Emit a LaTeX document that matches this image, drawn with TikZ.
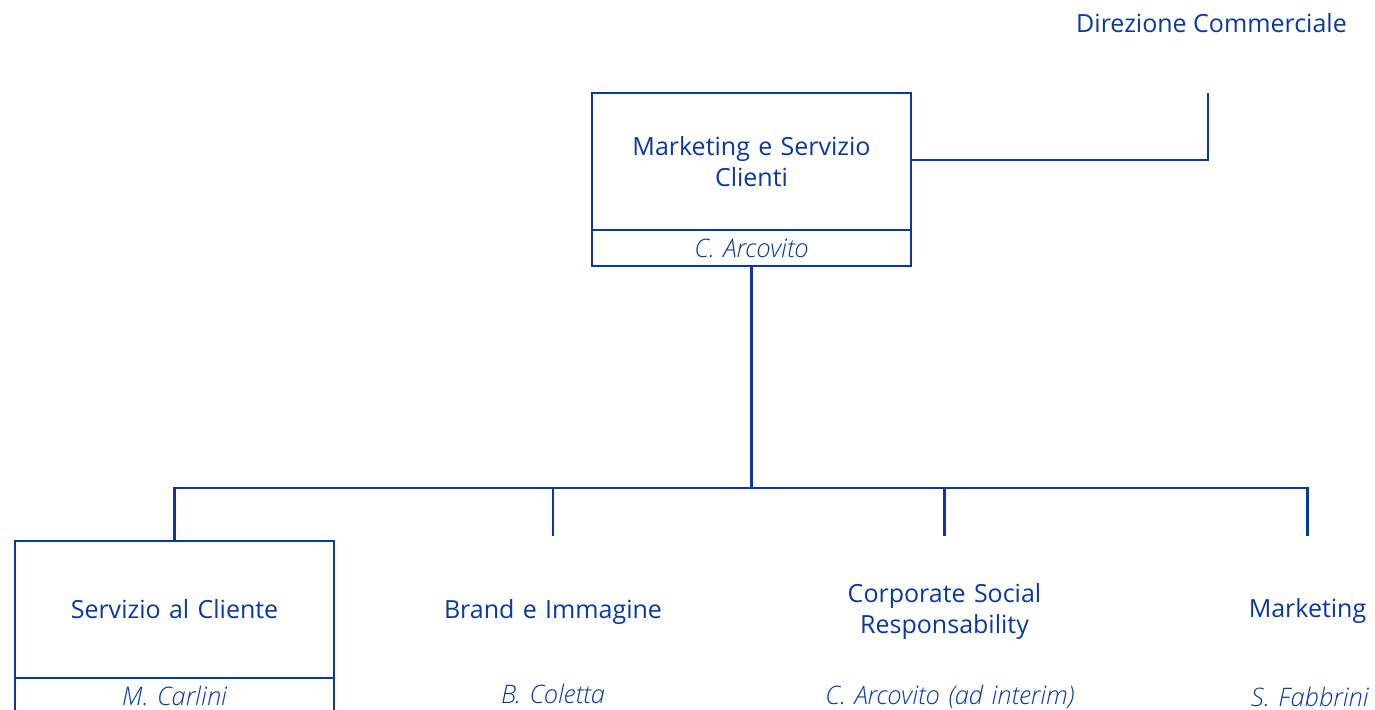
\documentclass[tikz,border=0pt]{standalone}
\usepackage{fontspec}
\setmainfont{Open Sans}
\newfontfamily\namefont{Open Sans Light Italic}
\definecolor{orgblue}{RGB}{8,56,160}
\begin{document}
\begin{tikzpicture}[x=1pt,y=-1pt,
  line/.style={draw=orgblue,line width=2.5pt},
  unitbox/.style={rectangle,minimum width=319pt,minimum height=137pt,inner sep=0pt,outer sep=0pt,
    text=orgblue,font=\fontsize{25}{31.5}\selectfont,align=center,text width=300pt},
  namebox/.style={rectangle,minimum width=319pt,minimum height=36pt,inner sep=0pt,outer sep=0pt,
    text=orgblue,font=\fontsize{25.5}{31.5}\selectfont\namefont,align=center,text width=319pt},
  drawn/.style={draw=orgblue,line width=2.5pt}]
\useasboundingbox (0,0) rectangle (1375,709);
\node[anchor=east,text=orgblue,font=\fontsize{25}{31.5}\selectfont,inner sep=0pt] (dir) at (1347,23) {Direzione Commerciale};
\coordinate (dirlink) at (1208,93);
\node[unitbox,drawn] (top) at (751.5,161.5) {Marketing e Servizio\\Clienti};
\node[namebox,drawn,anchor=north] (topname) at (top.south) {C. Arcovito};
\draw[line] (top.east |- 0,160) -| (dirlink);
\coordinate (bus) at (751.5,488);
\node[unitbox,drawn] (sc) at (174.5,609.5) {Servizio al Cliente};
\node[namebox,drawn,anchor=north] (scname) at (sc.south) {M. Carlini};
\node[unitbox,minimum height=145pt] (bi) at (553,608.5) {\strut\\[-28pt]Brand e Immagine};
\node[namebox,anchor=north] (biname) at (553,676) {B. Coletta};
\node[unitbox,minimum height=151pt] (csr) at (944.5,611.5) {Corporate Social\\Responsability};
\node[namebox,anchor=north] (csrname) at (950,679) {C. Arcovito (ad interim)};
\node[unitbox,minimum height=149pt] (mk) at (1307.5,610.5) {Marketing};
\node[namebox,anchor=north] (mkname) at (1310,679) {S. Fabbrini};
\draw[line] (topname.south) -- (bus);
\draw[line] (sc.north) |- (bus) -| (mk.north);
\draw[line] (bi.north) -- (bi.north |- bus);
\draw[line] (csr.north) -- (csr.north |- bus);
\end{tikzpicture}
\end{document}
